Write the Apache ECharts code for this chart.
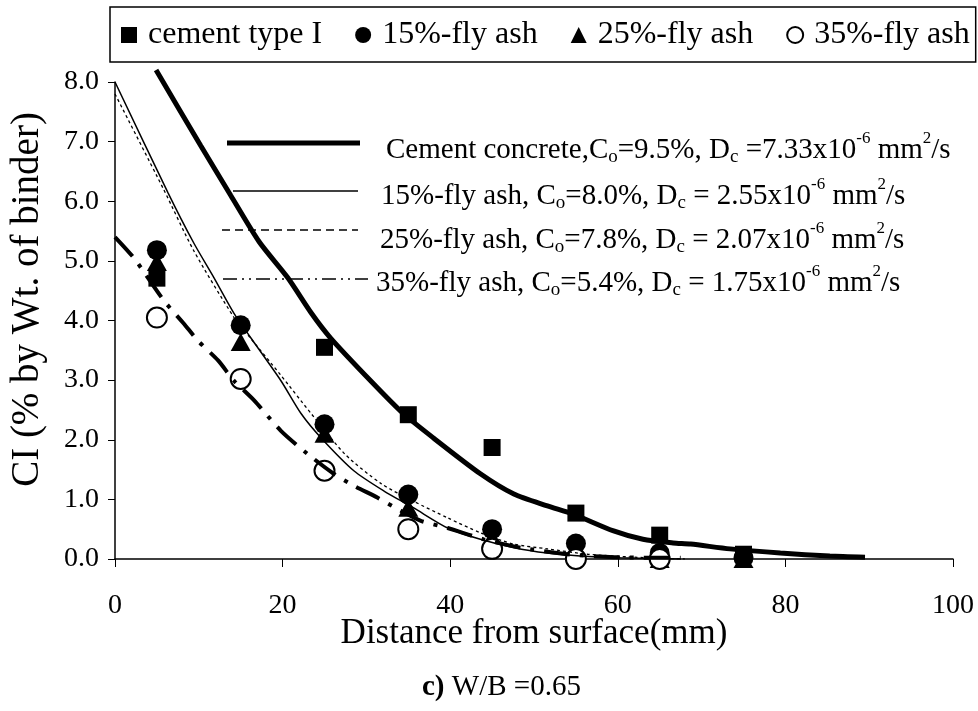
<!DOCTYPE html>
<html>
<head>
<meta charset="utf-8">
<script src="https://cdn.jsdelivr.net/npm/echarts@6/dist/echarts.min.js"></script>
<style>
html,body{margin:0;padding:0;background:#fff;}
#chart{width:978px;height:711px;}
</style>
</head>
<body>
<div id="chart"></div>
<script>
// ---- measured data (Distance from surface, mm) ----
const distances = [5, 15, 25, 35, 45, 55, 65, 75];
const cementType1 = [4.71, null, 3.55, 2.42, 1.87, 0.77, 0.40, 0.08];
const flyAsh15 = [5.18, 3.92, 2.26, 1.08, 0.50, 0.26, 0.10, 0.02];
const flyAsh25 = [4.98, 3.64, 2.10, 0.86, 0.36, 0.12, 0.00, 0.00];
const flyAsh35 = [4.05, 3.02, 1.48, 0.50, 0.17, 0.00, 0.00, null];

// ---- fitted curves ----
const cementFitX = [4.9, 10.2, 13.8, 17.2, 20.6, 23.4, 25.7, 30.5, 34.4, 38.0, 43.6, 47.6, 51.6, 54.7, 59.5, 63.0, 66.6, 68.7, 73.4, 79.4, 85.3, 89.5];
const cementFitY = [8.20, 6.94, 6.10, 5.32, 4.72, 4.13, 3.71, 2.99, 2.44, 2.03, 1.43, 1.09, 0.89, 0.75, 0.47, 0.33, 0.27, 0.25, 0.17, 0.10, 0.05, 0.03];
const fa15FitX = [0, 6.3, 9.4, 11.8, 14.2, 16.2, 19.8, 22.2, 24.6, 28.5, 32.1, 35.6, 39.7, 43.6, 47.6, 51.6, 55.5, 60.3, 67.5];
const fa15FitY = [8.0, 6.15, 5.30, 4.72, 4.12, 3.71, 2.99, 2.44, 2.03, 1.48, 1.14, 0.86, 0.52, 0.33, 0.19, 0.10, 0.05, 0.02, 0.0];
const fa25FitX = [0, 5.8, 9.4, 14.2, 15.9, 19.8, 23.4, 27.5, 31.8, 35.6, 39.7, 43.6, 47.6, 51.6, 56.4, 62, 68];
const fa25FitY = [7.8, 6.2, 5.17, 4.05, 3.75, 3.08, 2.44, 1.75, 1.26, 0.97, 0.69, 0.44, 0.25, 0.17, 0.08, 0.03, 0.0];
const fa35FitX = [0, 2.3, 5.8, 8.2, 9.9, 12.3, 14.2, 16.6, 19.8, 23.0, 26.1, 28.5, 31.3, 34.1, 36.5, 39.7, 44, 48.4, 54, 59.5, 67.5];
const fa35FitY = [5.4, 5.04, 4.34, 3.95, 3.66, 3.33, 2.99, 2.66, 2.15, 1.76, 1.43, 1.23, 1.03, 0.81, 0.64, 0.52, 0.33, 0.19, 0.08, 0.03, 0.02];

// ---- axis ticks ----
const xTicks = [0, 20, 40, 60, 80, 100];
const yTicks = [0, 1, 2, 3, 4, 5, 6, 7, 8];

const seriesNames = ['cement type I', '15%-fly ash', '25%-fly ash', '35%-fly ash'];
const fitLabels = [
  'Cement concrete,C{sub|o}=9.5%, D{sub|c} =7.33x10{sup|-6} mm{sup|2}/s',
  '15%-fly ash, C{sub|o}=8.0%, D{sub|c} = 2.55x10{sup|-6} mm{sup|2}/s',
  '25%-fly ash, C{sub|o}=7.8%, D{sub|c} = 2.07x10{sup|-6} mm{sup|2}/s',
  '35%-fly ash, C{sub|o}=5.4%, D{sub|c} = 1.75x10{sup|-6} mm{sup|2}/s'
];

const FONT = '"Liberation Serif", "Times New Roman", serif';
const pair = (xs, ys) => xs.map((x, i) => [x, ys[i]]);

const chart = echarts.init(document.getElementById('chart'));

const richStyles = {
  sub: { fontSize: 19, fontFamily: FONT, verticalAlign: 'bottom', height: 26, lineHeight: 26 },
  sup: { fontSize: 17, fontFamily: FONT, verticalAlign: 'top', height: 18, lineHeight: 18 }
};

function annotation(i, yLine, x1, x2, lineStyle, textX, textY) {
  return [
    { type: 'line', shape: { x1: x1, y1: yLine, x2: x2, y2: yLine }, style: Object.assign({ stroke: '#000' }, lineStyle), z: 10 },
    { type: 'text', x: textX, y: textY, z: 10,
      style: { text: fitLabels[i], fill: '#000', fontSize: 29, fontFamily: FONT, lineHeight: 40,
               align: 'left', verticalAlign: 'middle', rich: richStyles } }
  ];
}

const option = {
  backgroundColor: '#fff',
  animation: false,
  title: {
    text: '{b|c)} W/B =0.65',
    left: 417, top: 668,
    textStyle: { fontSize: 29, fontFamily: FONT, color: '#000', fontWeight: 'normal',
      rich: { b: { fontSize: 29, fontFamily: FONT, fontWeight: 'bold', color: '#000' } } }
  },
  legend: {
    data: seriesNames,
    left: 110, top: 7,
    padding: [12, 6, 11, 11],
    itemWidth: 16, itemHeight: 16, itemGap: 33,
    borderColor: '#000', borderWidth: 1.5, backgroundColor: '#fff',
    textStyle: { fontSize: 32, fontFamily: FONT, color: '#000', padding: [0, 0, 0, 6] }
  },
  grid: { left: 114, right: 25, top: 82, bottom: 152 },
  xAxis: {
    type: 'value', min: xTicks[0], max: xTicks[xTicks.length - 1], interval: xTicks[1] - xTicks[0],
    name: 'Distance from surface(mm)', nameLocation: 'middle', nameGap: 57, nameMoveOverlap: false,
    nameTextStyle: { fontSize: 35, fontFamily: FONT, color: '#000' },
    axisLine: { show: true, onZero: false, lineStyle: { color: '#000', width: 1.5 } },
    axisTick: { show: true, inside: false, length: 8, lineStyle: { color: '#000', width: 1 } },
    axisLabel: { fontSize: 28, fontFamily: FONT, color: '#000', margin: 33 },
    splitLine: { show: false }
  },
  yAxis: {
    type: 'value', min: yTicks[0], max: yTicks[yTicks.length - 1], interval: yTicks[1] - yTicks[0],
    name: 'CI (% by Wt. of binder)', nameLocation: 'middle', nameGap: 68,
    nameTextStyle: { fontSize: 39, fontFamily: FONT, color: '#000', padding: [0, 0, 0, 42] },
    axisLine: { show: true, lineStyle: { color: '#000', width: 1.5 } },
    axisTick: { show: true, inside: false, length: 7, lineStyle: { color: '#000', width: 1 } },
    axisLabel: { fontSize: 28, fontFamily: FONT, color: '#000', margin: 16, formatter: v => v.toFixed(1) },
    splitLine: { show: false }
  },
  graphic: [].concat(
    annotation(0, 143, 227, 360, { lineWidth: 5 }, 386, 150),
    annotation(1, 191, 233, 358, { lineWidth: 1.5 }, 381, 196),
    annotation(2, 230, 222, 358, { lineWidth: 1.5, lineDash: [8, 5] }, 380, 240),
    annotation(3, 279, 223, 368, { lineWidth: 1.5, lineDash: [14, 5, 2, 5, 2, 5] }, 376, 283)
  ),
  series: [
    { name: seriesNames[0], type: 'scatter', symbol: 'rect', symbolSize: 17,
      itemStyle: { color: '#000', opacity: 1 }, data: distances.map((x, i) => [x, cementType1[i]]).filter(d => d[1] !== null) },
    { name: seriesNames[1], type: 'scatter', symbol: 'circle', symbolSize: 20,
      itemStyle: { color: '#000', opacity: 1 }, data: pair(distances, flyAsh15) },
    { name: seriesNames[2], type: 'scatter', symbol: 'triangle', symbolSize: [20, 18],
      itemStyle: { color: '#000', opacity: 1 }, data: pair(distances, flyAsh25) },
    { name: seriesNames[3], type: 'scatter', symbol: 'emptyCircle', symbolSize: 20,
      itemStyle: { color: '#000', borderColor: '#000', borderWidth: 1.5, opacity: 1 },
      data: distances.map((x, i) => [x, flyAsh35[i]]).filter(d => d[1] !== null) },
    { name: 'fit-cement', type: 'line', showSymbol: false, symbol: 'none', smooth: 0.25, clip: false,
      lineStyle: { color: '#000', width: 5 }, data: pair(cementFitX, cementFitY) },
    { name: 'fit-15', type: 'line', showSymbol: false, symbol: 'none', smooth: 0.25,
      lineStyle: { color: '#000', width: 1.5 }, data: pair(fa15FitX, fa15FitY) },
    { name: 'fit-25', type: 'line', showSymbol: false, symbol: 'none', smooth: 0.25,
      lineStyle: { color: '#000', width: 1.3, type: [3, 3] }, data: pair(fa25FitX, fa25FitY) },
    { name: 'fit-35', type: 'line', showSymbol: false, symbol: 'none', smooth: 0.25,
      lineStyle: { color: '#000', width: 4, type: [26, 10, 4, 10] }, data: pair(fa35FitX, fa35FitY) }
  ]
};
chart.setOption(option);
</script>
</body>
</html>
